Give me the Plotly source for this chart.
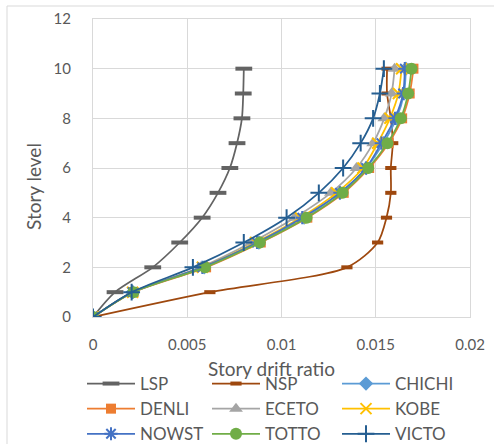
import plotly.graph_objects as go

levels = [0, 1, 2, 3, 4, 5, 6, 7, 8, 9, 10]
LSP = [0, 0.00117, 0.00317, 0.0046, 0.00579, 0.00663, 0.00726, 0.00764, 0.0079, 0.00797, 0.008]
NSP = [0, 0.0062, 0.01347, 0.0151, 0.01557, 0.0158, 0.0158, 0.0159, 0.0158, 0.0156, 0.0156]
CHICHI = [0, 0.0021, 0.0059, 0.0088, 0.0112, 0.0131, 0.0145, 0.0154, 0.0161, 0.0165, 0.0166]
DENLI = [0, 0.00215, 0.0060, 0.0089, 0.01137, 0.0133, 0.01465, 0.01568, 0.0164, 0.0168, 0.0170]
ECETO = [0, 0.0021, 0.0057, 0.0084, 0.0107, 0.01262, 0.01398, 0.01486, 0.01545, 0.01584, 0.0160]
KOBE = [0, 0.0021, 0.0058, 0.00862, 0.0110, 0.01292, 0.01432, 0.0151, 0.01575, 0.0162, 0.01637]
NOWST = [0, 0.0021, 0.0058, 0.0087, 0.0111, 0.0131, 0.01448, 0.0153, 0.01602, 0.01645, 0.01654]
TOTTO = [0, 0.00214, 0.00594, 0.00885, 0.01133, 0.01324, 0.0146, 0.01562, 0.01633, 0.01672, 0.0169]
VICTO = [0, 0.00205, 0.0053, 0.0080, 0.01027, 0.01198, 0.01327, 0.0142, 0.01486, 0.01522, 0.01543]

X_TITLE = "Story drift ratio"
Y_TITLE = "Story level"

# (name, data, colour, marker, legend column)
series = [
    ("LSP", LSP, "#636363", dict(symbol="line-ew", size=12, line=dict(width=4, color="#636363")), "legend"),
    ("NSP", NSP, "#9E480E", dict(symbol="line-ew", size=8, line=dict(width=4, color="#9E480E")), "legend2"),
    ("CHICHI", CHICHI, "#5B9BD5", dict(symbol="diamond", size=11), "legend3"),
    ("DENLI", DENLI, "#ED7D31", dict(symbol="square", size=10), "legend"),
    ("ECETO", ECETO, "#A5A5A5", dict(symbol="triangle-up", size=12), "legend2"),
    ("KOBE", KOBE, "#FFC000", dict(symbol="x-thin", size=11, line=dict(width=2, color="#FFC000")), "legend3"),
    ("NOWST", NOWST, "#4472C4", dict(symbol="asterisk", size=11, line=dict(width=2, color="#4472C4")), "legend"),
    ("TOTTO", TOTTO, "#70AD47", dict(symbol="circle", size=12), "legend2"),
    ("VICTO", VICTO, "#255E91", dict(symbol="cross-thin", size=12, line=dict(width=2, color="#255E91")), "legend3"),
]

fig = go.Figure()
for name, xs, color, mk, leg in series:
    mk = dict(mk)
    mk["color"] = color
    fig.add_trace(go.Scatter(
        x=xs, y=levels, name=name, mode="lines+markers",
        line=dict(color=color, width=1.75, shape="spline", smoothing=0.8),
        marker=mk, legend=leg,
    ))

W, H = 494, 444
grid = "#D9D9D9"
txt = "#595959"
FONT = "Lato, Open Sans, sans-serif"

def leg(px, py):
    return dict(orientation="v", x=px / W, xanchor="left", y=1 - py / H, yanchor="top",
                itemwidth=48, font=dict(size=17, color=txt, family=FONT),
                bgcolor="rgba(0,0,0,0)", tracegroupgap=0)

fig.update_layout(
    width=W, height=H,
    margin=dict(l=0, r=0, t=0, b=0, autoexpand=False),
    paper_bgcolor="white", plot_bgcolor="white",
    font=dict(family=FONT, size=15, color=txt),
    xaxis=dict(domain=[93 / W, 470 / W], range=[0, 0.02], dtick=0.005, showgrid=True,
               gridcolor=grid, gridwidth=1, automargin=False,
               zeroline=False, showline=True, linecolor=grid, mirror=True,
               ticks="", ticklabelstandoff=14),
    yaxis=dict(domain=[(H - 317) / H, (H - 19) / H], range=[0, 12], dtick=2, showgrid=True,
               gridcolor=grid, gridwidth=1, automargin=False,
               zeroline=False, showline=True, linecolor=grid, mirror=True,
               ticks="", ticklabelstandoff=18),
    showlegend=True,
    legend=leg(82, 366),
    legend2=leg(207, 366),
    legend3=leg(337, 366),
    annotations=[
        dict(text=X_TITLE, xref="paper", yref="paper", x=271 / W, y=1 - 368 / H,
             xanchor="center", yanchor="middle", showarrow=False,
             font=dict(size=19, color=txt, family=FONT)),
        dict(text=Y_TITLE, xref="paper", yref="paper", x=33 / W, y=1 - 187 / H,
             xanchor="center", yanchor="middle", showarrow=False, textangle=-90,
             font=dict(size=19, color=txt, family=FONT)),
    ],
    shapes=[dict(type="rect", xref="paper", yref="paper",
                 x0=7 / W, x1=1.05, y0=-0.05, y1=1 - 6 / H,
                 line=dict(color="#D9D9D9", width=1), layer="below")],
)

fig.write_html("out.html")
